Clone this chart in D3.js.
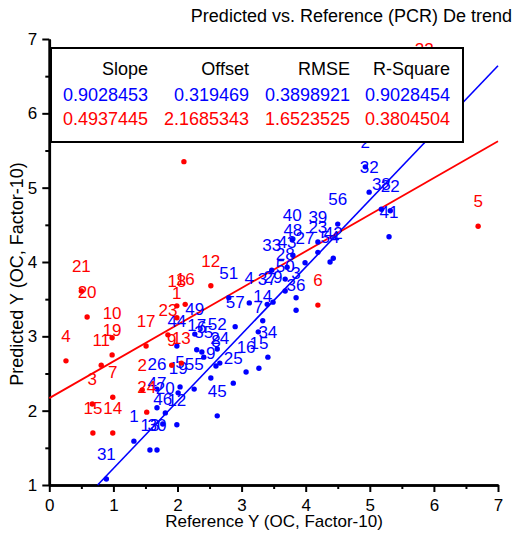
<!DOCTYPE html>
<html>
<head>
<meta charset="utf-8">
<title>Predicted vs. Reference</title>
<script src="https://d3js.org/d3.v7.min.js"></script>
<style>
  body { margin: 0; background: #fff; }
  text { font-family: "Liberation Sans", Arial, sans-serif; }
  .axis path, .axis line { stroke: #000; }
</style>
</head>
<body>
<script>
// legend table
let statNames = ["Slope", "Offset", "RMSE", "R-Square"];
let blueStats = ["0.9028453", "0.319469", "0.3898921", "0.9028454"];
let redStats = ["0.4937445", "2.1685343", "1.6523525", "0.3804504"];
let blueSlope = 0.9028453, blueOffset = 0.319469;
let redSlope = 0.4937445, redOffset = 2.1685343;

// blue samples: id, reference Y, predicted Y
let blueIds  = [1, 2, 3, 4, 5, 6, 7, 8, 9, 12, 13, 14, 15, 16, 17, 19, 20, 22, 23, 24, 25, 26, 27, 28, 29, 30,
                31, 32, 33, 34, 35, 36, 37, 38, 39, 40, 41, 42, 43, 44, 45, 46, 47, 48, 49, 50, 51, 52, 54, 55, 56, 57];
let blueRef  = [1.32, 4.93, 3.85, 3.12, 2.04, 2.38, 3.26, 2.60, 2.52, 1.99, 1.57, 3.33, 3.27, 3.07, 2.30, 2.01, 1.81, 5.32, 4.19, 2.66, 2.87, 1.68, 3.99, 3.68, 3.49, 1.68,
                0.89, 4.99, 3.47, 3.41, 2.41, 3.85, 3.40, 5.18, 4.19, 3.79, 5.30, 4.43, 3.71, 1.99, 2.62, 1.77, 1.68, 3.80, 2.27, 3.68, 2.80, 2.62, 4.38, 2.26, 4.50, 2.90];
let bluePred = [1.59, 5.28, 3.52, 3.45, 2.32, 2.79, 3.06, 2.60, 2.44, 1.81, 1.47, 3.21, 2.57, 2.52, 2.82, 2.24, 1.97, 4.69, 4.13, 2.64, 2.37, 2.29, 3.99, 3.77, 3.46, 1.47,
                1.08, 4.94, 3.89, 2.72, 2.72, 3.35, 3.43, 4.71, 4.27, 4.30, 4.34, 4.05, 3.93, 2.87, 1.93, 1.82, 2.04, 4.09, 3.03, 3.61, 3.52, 2.83, 4.00, 2.29, 4.51, 3.13];

// red samples
let redIds  = [1, 2, 3, 4, 5, 6, 7, 8, 9, 10, 11, 12, 13, 14, 15, 16, 17, 18, 19, 20, 21, 22, 23, 24];
let redRef  = [1.99, 1.45, 0.67, 0.26, 6.69, 4.19, 0.99, 2.10, 1.91, 0.98, 0.81, 2.52, 2.06, 0.99, 0.68, 2.12, 1.51, 1.99, 0.98, 0.59, 0.50, 5.85, 1.85, 1.52];
let redPred = [3.25, 2.28, 2.09, 2.67, 4.48, 3.42, 2.18, 5.35, 2.61, 2.98, 2.61, 3.68, 2.64, 1.70, 1.70, 3.43, 2.87, 3.41, 2.75, 3.26, 3.61, 6.53, 3.02, 1.98];

let xTicks = [0, 1, 2, 3, 4, 5, 6, 7];
let yTicks = [1, 2, 3, 4, 5, 6, 7];

let svgwidth = 518, svgheight = 546;
let margin = {top: 39, right: 20, bottom: 61, left: 49.3};

let x = d3.scaleLinear().domain([0, 7]).range([margin.left, 498]);
let y = d3.scaleLinear().domain([1, 7]).range([svgheight - margin.bottom, margin.top]);

let svg = d3.select("body").append("svg")
    .attr("width", svgwidth)
    .attr("height", svgheight);

// title
svg.append("text")
    .attr("x", 512).attr("y", 22)
    .attr("text-anchor", "end")
    .attr("font-size", 18)
    .text("Predicted vs. Reference (PCR) De trend");

// axes
let xAxis = svg.append("g").attr("class", "axis")
    .attr("transform", "translate(0," + y(1) + ")");
xAxis.call(d3.axisBottom(x).tickValues(d3.range(0.5, 7, 1)).tickSize(4).tickSizeOuter(0).tickFormat(""));
xAxis.append("g").call(d3.axisBottom(x).tickValues(xTicks).tickSize(7).tickSizeOuter(0)
    .tickPadding(7).tickFormat(d3.format("d")));

let yAxis = svg.append("g").attr("class", "axis")
    .attr("transform", "translate(" + x(0) + ",0)");
yAxis.call(d3.axisLeft(y).tickValues(d3.range(1.5, 7, 1)).tickSize(4).tickSizeOuter(0).tickFormat(""));
yAxis.append("g").call(d3.axisLeft(y).tickValues(yTicks).tickSize(7).tickSizeOuter(0)
    .tickPadding(5).tickFormat(d3.format("d")));

svg.selectAll(".axis path").attr("stroke-width", 2.5);
svg.selectAll(".axis line").attr("stroke-width", 2);
svg.selectAll(".axis text")
    .attr("font-size", 17)
    .attr("font-family", "Liberation Sans, Arial, sans-serif")
    .attr("fill", "#000");

svg.append("text")
    .attr("x", 274).attr("y", 527)
    .attr("text-anchor", "middle")
    .attr("font-size", 17)
    .text("Reference Y (OC, Factor-10)");

svg.append("text")
    .attr("transform", "translate(23,274) rotate(-90)")
    .attr("text-anchor", "middle")
    .attr("font-size", 18)
    .text("Predicted Y (OC, Factor-10)");

// regression lines
let blueStart = (1 - blueOffset) / blueSlope;
svg.append("line")
    .attr("x1", x(blueStart)).attr("y1", y(1))
    .attr("x2", x(7)).attr("y2", y(blueSlope * 7 + blueOffset))
    .attr("stroke", "#0000ff").attr("stroke-width", 1.6);

svg.append("line")
    .attr("x1", x(0)).attr("y1", y(redOffset))
    .attr("x2", x(7)).attr("y2", y(redSlope * 7 + redOffset))
    .attr("stroke", "#ff0000").attr("stroke-width", 1.8);

// sample points with their numbers
function drawSet(ids, ref, pred, color) {
    let rows = ids.map(function (d, i) { return {id: d, x: ref[i], y: pred[i]}; });
    let g = svg.append("g");
    g.selectAll("circle").data(rows).enter().append("circle")
        .attr("cx", function (d) { return x(d.x); })
        .attr("cy", function (d) { return y(d.y); })
        .attr("r", 2.7)
        .attr("fill", color);
    g.selectAll("text").data(rows).enter().append("text")
        .attr("x", function (d) { return x(d.x); })
        .attr("y", function (d) { return y(d.y) - 19; })
        .attr("text-anchor", "middle")
        .attr("font-size", 17)
        .attr("fill", color)
        .text(function (d) { return d.id; });
}
drawSet(blueIds, blueRef, bluePred, "#0000ff");
drawSet(redIds, redRef, redPred, "#ff0000");

// legend table
let legend = svg.append("g");
legend.append("rect")
    .attr("x", 51).attr("y", 48)
    .attr("width", 412).attr("height", 94)
    .attr("fill", "#fff").attr("stroke", "#000").attr("stroke-width", 2);

let colX = [148, 249, 350, 450];
let rowsTxt = [
    {vals: statNames, color: "#000", y: 75},
    {vals: blueStats, color: "#0000ff", y: 101},
    {vals: redStats, color: "#ff0000", y: 125}
];
rowsTxt.forEach(function (r) {
    legend.selectAll(null).data(r.vals).enter().append("text")
        .attr("x", function (d, i) { return colX[i]; })
        .attr("y", r.y)
        .attr("text-anchor", "end")
        .attr("font-size", 18)
        .attr("fill", r.color)
        .text(function (d) { return d; });
});
</script>
</body>
</html>
